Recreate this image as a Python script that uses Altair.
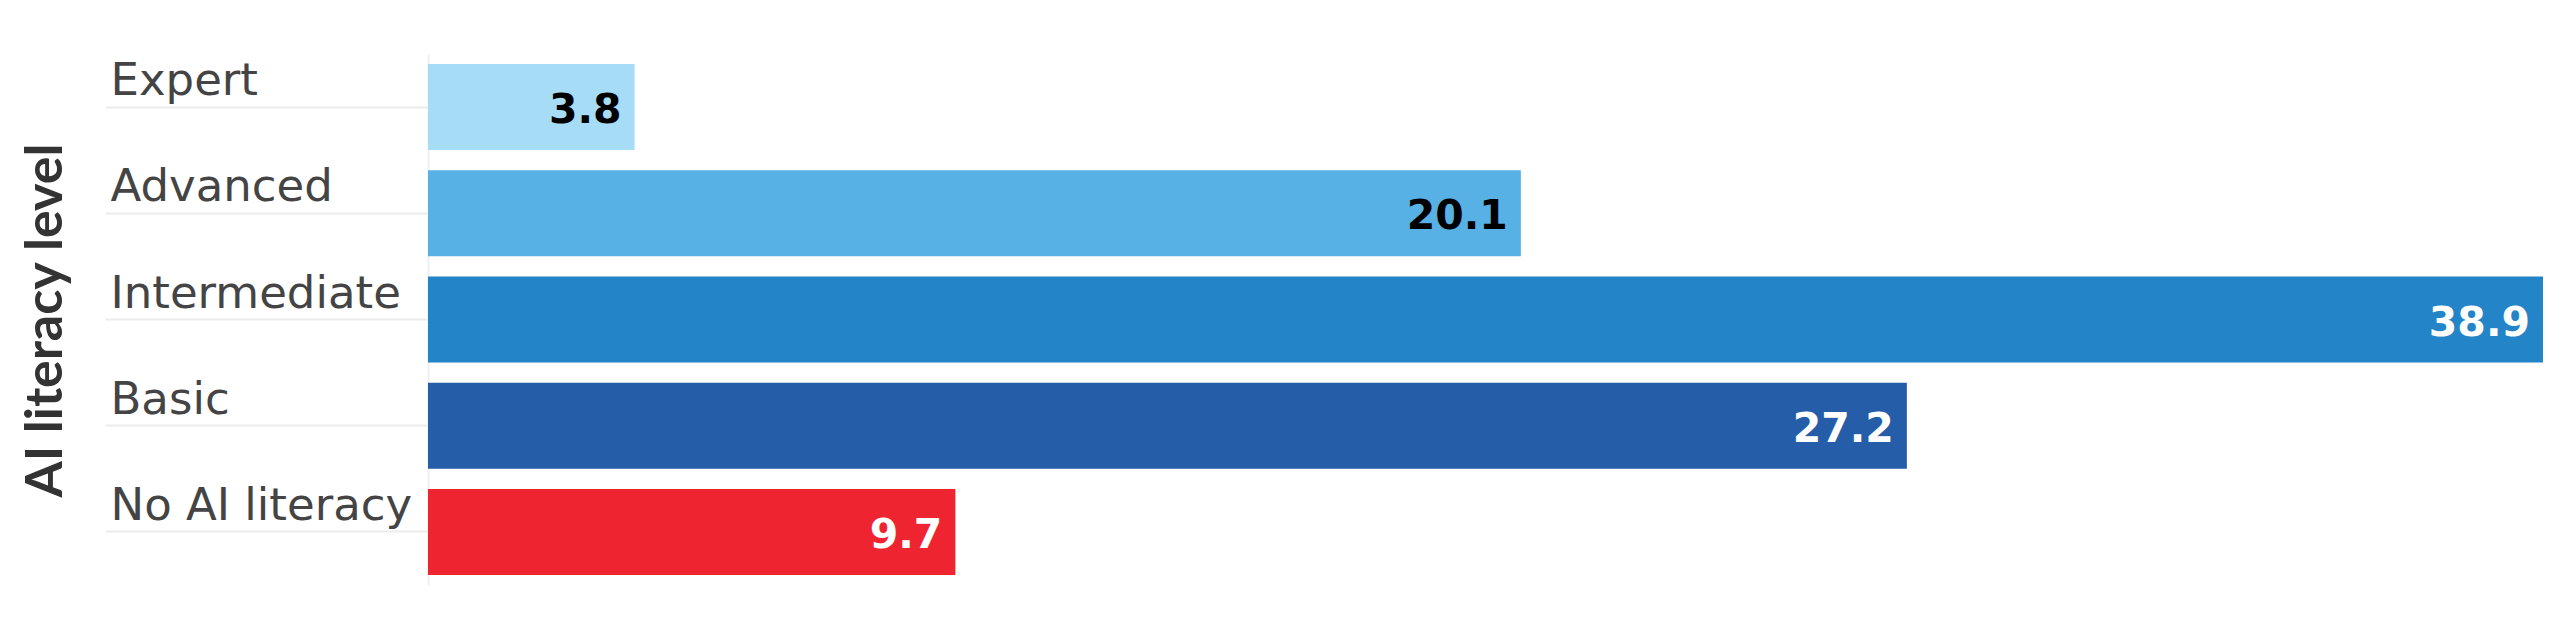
import altair as alt
import pandas as pd

categories = ["Expert", "Advanced", "Intermediate", "Basic", "No AI literacy"]
values = [3.8, 20.1, 38.9, 27.2, 9.7]

bar_colors = ["#a6dcf6", "#58b1e4", "#2384c8", "#255da8", "#ee2530"]
text_colors = ["#000000", "#000000", "#ffffff", "#ffffff", "#ffffff"]

df = pd.DataFrame({"level": categories, "value": values})

y_enc = alt.Y(
    "level:N",
    sort=categories,
    scale=alt.Scale(paddingInner=0.19, paddingOuter=0.095),
    axis=alt.Axis(
        title="AI literacy level",
        titleFont="Lato",
        titleFontSize=52,
        titleFontWeight="bold",
        titleColor="#333333",
        titleAngle=270,
        titleAlign="center",
        titleBaseline="alphabetic",
        titleX=-367,
        titleY=266,
        ticks=True,
        tickSize=323,
        tickColor="#ececec",
        tickWidth=2,
        domain=True,
        domainColor="#efefef",
        domainWidth=2,
        labelAlign="left",
        labelPadding=-5,
        labelFont="DejaVu Sans",
        labelFontSize=45,
        labelColor="#444444",
        labelBaseline="alphabetic",
        labelOffset=-12,
        labelLimit=500,
        grid=False,
    ),
)

x_enc = alt.X("value:Q", scale=alt.Scale(domain=[0, 38.9], nice=False, zero=True), axis=None)

bars = alt.Chart(df).mark_bar().encode(
    y=y_enc,
    x=x_enc,
    color=alt.Color("level:N", scale=alt.Scale(domain=categories, range=bar_colors), legend=None),
)

labels = alt.Chart(df).mark_text(
    align="right", baseline="middle", dx=-13, dy=4, font="DejaVu Sans", fontSize=41, fontWeight="bold"
).encode(
    y=alt.Y("level:N", sort=categories),
    x=alt.X("value:Q"),
    text=alt.Text("value:Q", format=".1f"),
    color=alt.Color("level:N", scale=alt.Scale(domain=categories, range=text_colors), legend=None),
)

chart = (
    alt.layer(bars, labels)
    .resolve_scale(color="independent")
    .properties(
        width=2115,
        height=531,
        autosize=alt.AutoSizeParams(type="none"),
        padding={"left": 420, "top": 46, "right": 10, "bottom": 30},
    )
    .configure_view(stroke=None)
)

chart.save("out.html", embed_options={"renderer": "svg", "actions": False})
